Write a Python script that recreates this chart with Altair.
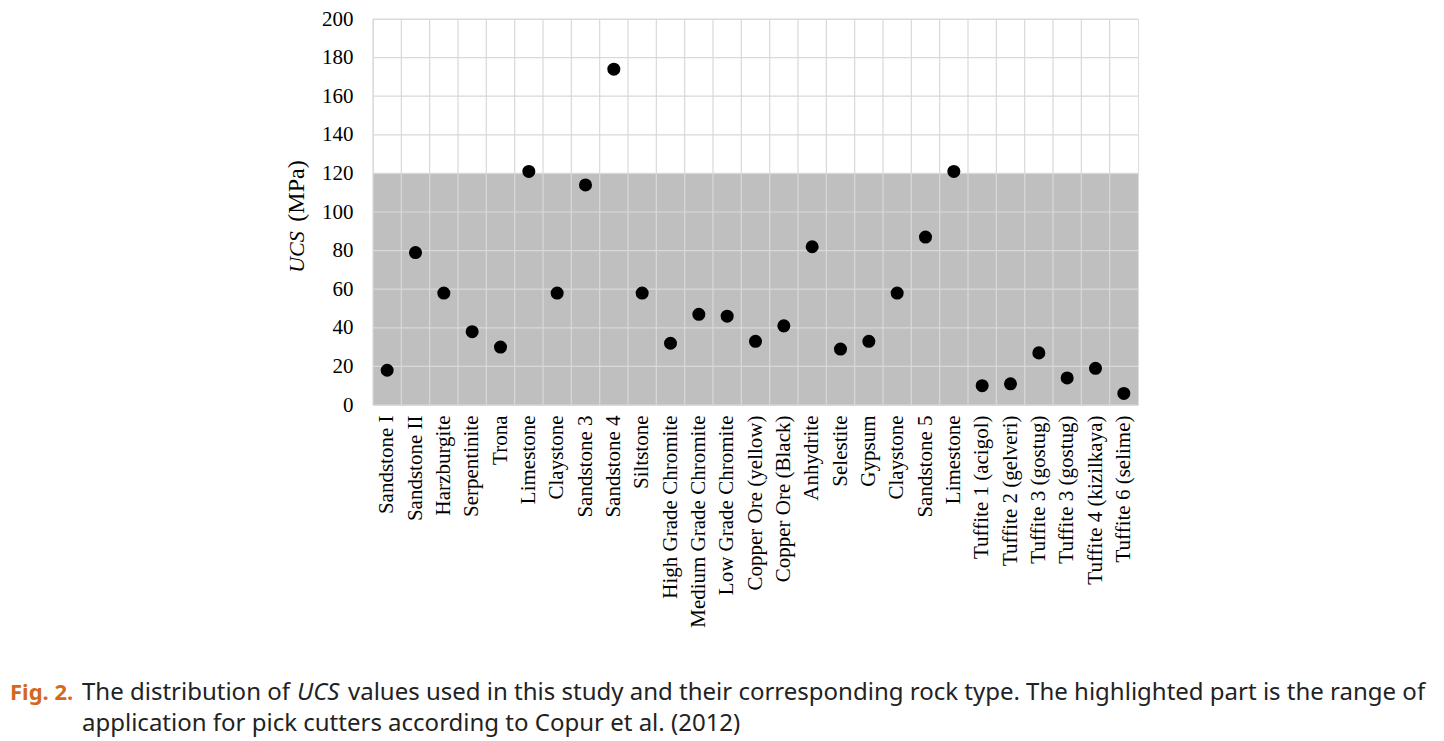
import json
import altair as alt
import pandas as pd

rocks = ["Sandstone I", "Sandstone II", "Harzburgite", "Serpentinite", "Trona",
         "Limestone", "Claystone", "Sandstone 3", "Sandstone 4", "Siltstone",
         "High Grade Chromite", "Medium Grade Chromite", "Low Grade Chromite",
         "Copper Ore (yellow)", "Copper Ore (Black)", "Anhydrite", "Selestite",
         "Gypsum", "Claystone", "Sandstone 5", "Limestone", "Tuffite 1 (acigol)",
         "Tuffite 2 (gelveri)", "Tuffite 3 (gostug)", "Tuffite 3 (gostug)",
         "Tuffite 4 (kizilkaya)", "Tuffite 6 (selime)"]
ucs = [18, 79, 58, 38, 30, 121, 58, 114, 174, 58, 32, 47, 46, 33, 41, 82, 29,
       33, 58, 87, 121, 10, 11, 27, 14, 19, 6]
y_ticks = [0, 20, 40, 60, 80, 100, 120, 140, 160, 180, 200]
band_lo = [0]
band_hi = [120]

ytitle_a = ["UCS"]
ytitle_b = ["(MPa)"]
cap_fig = ["Fig. 2."]
cap_a = ["The distribution of"]
cap_ucs = ["UCS"]
cap_b = ["values used in this study and their corresponding rock type. The highlighted part is the range of"]
cap_c = ["application for pick cutters according to Copur et al. (2012)"]

W, H = 765, 386
SERIF = "Liberation Serif"
SANS = "Noto Sans"

df = pd.DataFrame({"i": list(range(len(rocks))), "rock": rocks, "ucs": ucs})
label_expr = json.dumps(rocks) + "[datum.value]"

xscale = alt.Scale(type="band", paddingInner=0, paddingOuter=0, domain=list(range(len(rocks))))
yscale = alt.Scale(domain=[0, 200], nice=False)

xaxis = alt.Axis(labelExpr=label_expr, labelAngle=-90, labelFont=SERIF,
                 labelFontSize=21, labelColor="black", ticks=False,
                 domain=False, grid=False, labelPadding=10, labelLimit=400, title=None)
yaxis = alt.Axis(values=y_ticks, labelFont=SERIF, labelFontSize=21,
                 labelColor="black", ticks=False, domain=False, grid=False,
                 labelPadding=20, title=None)

band = alt.Chart(pd.DataFrame({"lo": band_lo, "hi": band_hi})).mark_rect(color="#bfbfbf").encode(
    y=alt.Y("lo:Q", scale=yscale, axis=yaxis, title=None), y2="hi:Q",
    x=alt.value(0), x2=alt.value(W))

hgrid = alt.Chart(pd.DataFrame({"t": y_ticks})).mark_rule(color="#d9d9d9", strokeWidth=1.2).encode(
    y=alt.Y("t:Q", scale=yscale, axis=yaxis, title=None))

vgrid = alt.Chart(df).mark_rule(color="#d9d9d9", strokeWidth=1.2).encode(
    x=alt.X("i:O", scale=xscale, bandPosition=0, axis=xaxis, title=None))

pts = alt.Chart(df).mark_circle(color="black", opacity=1, size=170).encode(
    x=alt.X("i:O", scale=xscale, axis=xaxis, title=None),
    y=alt.Y("ucs:Q", scale=yscale, axis=yaxis, title=None),
    tooltip=["rock", "ucs"])

def txt(lst, x, y, size, font, **kw):
    return alt.Chart(pd.DataFrame({"t": lst})).mark_text(
        font=font, fontSize=size, **kw).encode(
        text="t:N", x=alt.value(x), y=alt.value(y))

ytitle1 = txt(ytitle_a, -76, 233, 22, SERIF, angle=270, fontStyle="italic",
              align="center", baseline="middle", color="black")
ytitle2 = txt(ytitle_b, -76, 172, 24, SERIF, angle=270,
              align="center", baseline="middle", color="black")

CY1, CY2 = 681, 712
CS = 24
c_fig = txt(cap_fig, -363, CY1, 22, SANS, fontWeight="bold", color="#d2691e",
            align="left", baseline="alphabetic")
c_a = txt(cap_a, -291, CY1, CS, SANS, color="#222222", align="left", baseline="alphabetic")
c_ucs = txt(cap_ucs, -76, CY1, CS, SANS, fontStyle="italic", color="#222222",
            align="left", baseline="alphabetic")
c_b = txt(cap_b, -25, CY1, CS, SANS, color="#222222", align="left", baseline="alphabetic")
c_c = txt(cap_c, -291, CY2, CS, SANS, color="#222222", align="left", baseline="alphabetic")

chart = alt.layer(band, hgrid, vgrid, pts, ytitle1, ytitle2, c_fig, c_a, c_ucs, c_b, c_c).properties(
    width=W, height=H,
    padding={"left": 2, "top": 0, "right": 5, "bottom": 5}
).configure_view(stroke="#d9d9d9", strokeWidth=1.5).configure(background="white")

chart.save("out.html", embed_options={"renderer": "svg", "actions": False})
